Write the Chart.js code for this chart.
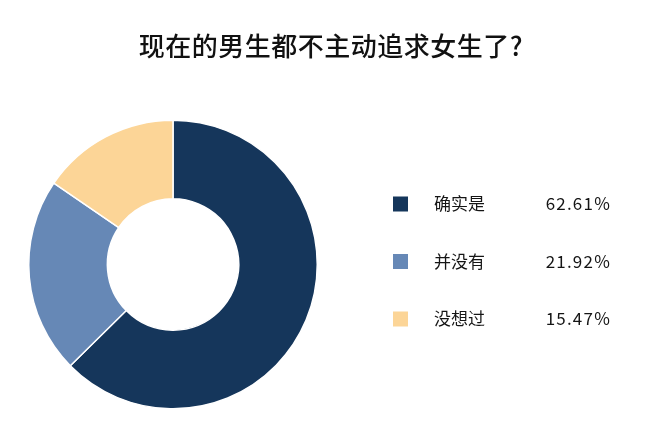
<!DOCTYPE html>
<html>
<head>
<meta charset="utf-8">
<script src="https://cdn.jsdelivr.net/npm/chart.js@4/dist/chart.umd.min.js"></script>
<style>
  html, body { margin: 0; padding: 0; background: #fff; }
  #wrap { width: 660px; height: 439px; }
</style>
</head>
<body>
<div id="wrap"><canvas id="pieChart"></canvas></div>
<script>
var titleText = '现在的男生都不主动追求女生了?';
var labels = ['确实是', '并没有', '没想过'];
var values = [62.61, 21.92, 15.47];
var colors = ['#15365b', '#6688b6', '#fcd597'];

var fontFamily = '"Noto Sans CJK SC", "Noto Sans", sans-serif';

// title across the whole picture + legend on the right (square, name, percentage)
var sideText = {
    id: 'sideText',
    afterDraw: function(chart) {
        var ctx = chart.ctx;
        ctx.save();
        ctx.textBaseline = 'middle';

        ctx.font = '500 26px ' + fontFamily;
        ctx.letterSpacing = '0.5px';
        ctx.fillStyle = '#111111';
        ctx.textAlign = 'center';
        ctx.fillText(titleText, 331, 46);

        ctx.font = '17px ' + fontFamily;
        for (var i = 0; i < labels.length; i++) {
            var y = 204 + i * 57.5;
            ctx.fillStyle = colors[i];
            ctx.fillRect(393, y - 7.5, 15, 15);
            ctx.fillStyle = '#151515';
            ctx.letterSpacing = '0px';
            ctx.textAlign = 'left';
            ctx.fillText(labels[i], 434, y);
            ctx.letterSpacing = '1.2px';
            ctx.textAlign = 'right';
            ctx.fillText(values[i].toFixed(2) + '%', 611, y);
        }
        ctx.restore();
    }
};

var pieChartCanvas = document.getElementById('pieChart').getContext('2d');
new Chart(pieChartCanvas, {
    type: 'doughnut',
    data: {
        labels: labels,
        datasets: [{
            data: values,
            backgroundColor: colors,
            borderColor: '#ffffff',
            borderWidth: 1.5,
            hoverOffset: 0
        }]
    },
    options: {
        responsive: true,
        maintainAspectRatio: false,
        animation: false,
        cutout: '45.5%',
        layout: { padding: { left: 28, right: 342, top: 119, bottom: 29 } },
        plugins: {
            legend: { display: false },
            tooltip: { enabled: false },
            title: { display: false }
        }
    },
    plugins: [sideText]
});
</script>
</body>
</html>
